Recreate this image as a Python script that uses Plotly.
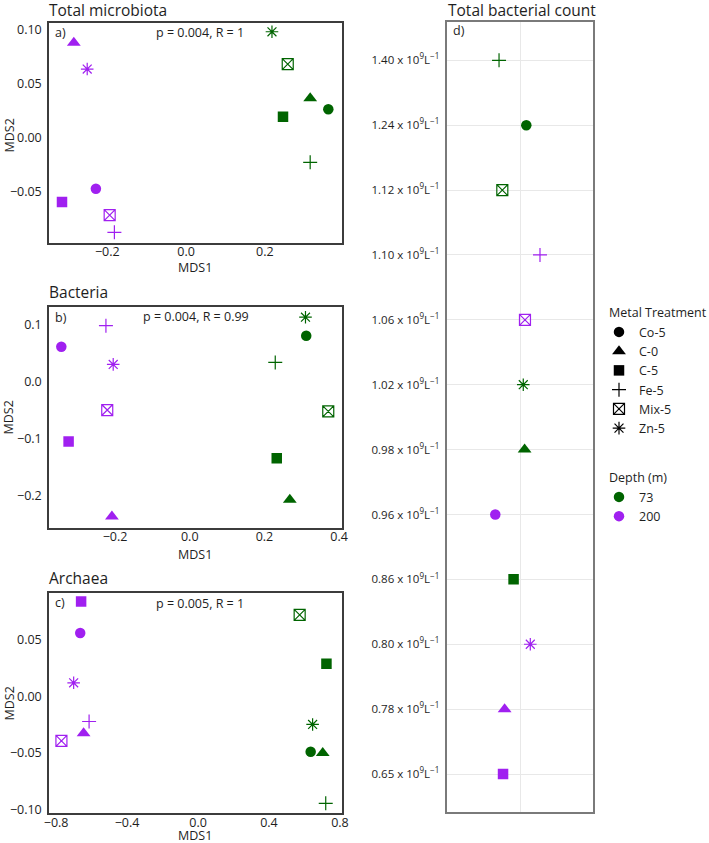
import plotly.graph_objects as go

# ---------------- data ----------------
treatments = ["Co-5", "C-0", "C-5", "Fe-5", "Mix-5", "Zn-5"]
depths = [73, 200]

# Panel a) Total microbiota
a_x_73 = [0.361, 0.315, 0.246, 0.315, 0.258, 0.218]
a_y_73 = [0.0266, 0.0368, 0.0197, -0.0225, 0.0685, 0.0984]
a_x_200 = [-0.229, -0.285, -0.315, -0.182, -0.194, -0.251]
a_y_200 = [-0.0469, 0.0882, -0.0593, -0.0873, -0.0713, 0.0639]

# Panel b) Bacteria
b_x_73 = [0.312, 0.268, 0.233, 0.229, 0.371, 0.310]
b_y_73 = [0.081, -0.207, -0.134, 0.0342, -0.0517, 0.1136]
b_x_200 = [-0.344, -0.2085, -0.3245, -0.2245, -0.221, -0.205]
b_y_200 = [0.0617, -0.2365, -0.1048, 0.0988, -0.0494, 0.0307]

# Panel c) Archaea
c_x_73 = [0.635, 0.703, 0.724, 0.720, 0.573, 0.646]
c_y_73 = [-0.049, -0.050, 0.029, -0.0947, 0.0722, -0.0248]
c_x_200 = [-0.664, -0.645, -0.659, -0.614, -0.770, -0.701]
c_y_200 = [0.0562, -0.0325, 0.084, -0.0222, -0.0393, 0.0121]

# Panel d) Total bacterial count (x 10^9 per L), top to bottom
count_values = [1.40, 1.24, 1.12, 1.10, 1.06, 1.02, 0.98, 0.96, 0.86, 0.80, 0.78, 0.65]
count_depth = [73, 73, 73, 200, 200, 73, 73, 200, 73, 200, 200, 200]
count_treat = ["Fe-5", "Co-5", "Mix-5", "Fe-5", "Mix-5", "Zn-5", "C-0", "Co-5", "C-5", "Zn-5", "C-0", "C-5"]
count_jitter = [0.827, 1.052, 0.854, 1.165, 1.041, 1.027, 1.038, 0.796, 0.947, 1.085, 0.873, 0.860]

panel_titles = ["Total microbiota", "Bacteria", "Archaea", "Total bacterial count"]
panel_tags = ["a)", "b)", "c)", "d)"]
panel_stats = ["p = 0.004, R = 1", "p = 0.004, R = 0.99", "p = 0.005, R = 1"]

# ---------------- styles ----------------
depth_color = {73: "#006400", 200: "#A020F0"}
sym = {"Co-5": "circle", "C-0": "triangle-up", "C-5": "square",
       "Fe-5": "cross-thin-open", "Mix-5": "square-x-open", "Zn-5": "asterisk-open"}
msize = {"Co-5": 10.5, "C-0": 12, "C-5": 10.5, "Fe-5": 10, "Mix-5": 11, "Zn-5": 10.5}
FONT = "Open Sans"
TXT = "#1e1e1e"
FS = 12.5


def marker(t, color):
    m = dict(symbol=sym[t], size=msize[t], color=color)
    if sym[t].endswith("-open"):
        m["line"] = dict(color=color, width=1.2)
    else:
        m["line"] = dict(width=0)
    return m


fig = go.Figure()

panels = [
    ("x", "y", a_x_73, a_y_73, a_x_200, a_y_200),
    ("x2", "y2", b_x_73, b_y_73, b_x_200, b_y_200),
    ("x3", "y3", c_x_73, c_y_73, c_x_200, c_y_200),
]
for xa, ya, x73, y73, x200, y200 in panels:
    for d, xs, ys in [(73, x73, y73), (200, x200, y200)]:
        for i, t in enumerate(treatments):
            fig.add_trace(go.Scatter(x=[xs[i]], y=[ys[i]], mode="markers", xaxis=xa, yaxis=ya,
                                     marker=marker(t, depth_color[d]), showlegend=False,
                                     name=f"{t} ({d} m)"))

count_labels = [f"{v:.2f} x 10<sup>9</sup>L<sup>\u22121</sup>" for v in count_values]
for i in range(len(count_values)):
    fig.add_trace(go.Scatter(x=[count_jitter[i]], y=[count_labels[i]], mode="markers",
                             xaxis="x4", yaxis="y4",
                             marker=marker(count_treat[i], depth_color[count_depth[i]]),
                             showlegend=False, name=count_treat[i]))

# legends
for t in treatments:
    fig.add_trace(go.Scatter(x=[None], y=[None], mode="markers", xaxis="x4", yaxis="y4",
                             marker=marker(t, "#000000"), name=t, legend="legend"))
for d in depths:
    fig.add_trace(go.Scatter(x=[None], y=[None], mode="markers", xaxis="x4", yaxis="y4",
                             marker=dict(symbol="circle", size=10.5, color=depth_color[d]),
                             name=str(d), legend="legend2"))

W, H = 709, 843


def xdom(l, r):
    return [l / W, r / W]


def ydom(top, bot):
    return [1 - bot / H, 1 - top / H]


ax_common = dict(showgrid=False, zeroline=False, showline=True, mirror=True,
                 linecolor="#3c3c3c", linewidth=1.5, ticks="",
                 tickfont=dict(size=FS, color=TXT), automargin=False)
xa_common = dict(ax_common, ticklabelstandoff=-3, tickformat=".1f", tick0=0)
ya_common = dict(ax_common, ticklabelstandoff=3, tick0=0)

fig.update_layout(
    xaxis=dict(xa_common, domain=xdom(49, 341.7), range=[-0.348, 0.395], dtick=0.2, anchor="y"),
    yaxis=dict(ya_common, domain=ydom(22.7, 242.7), range=[-0.0969, 0.1068], dtick=0.05,
               tickformat=".2f", anchor="x"),
    xaxis2=dict(xa_common, domain=xdom(49, 341.7), range=[-0.377, 0.407], dtick=0.2, anchor="y2"),
    yaxis2=dict(ya_common, domain=ydom(307.3, 527.7), range=[-0.256, 0.131], dtick=0.1,
                tickformat=".1f", anchor="x2"),
    xaxis3=dict(xa_common, domain=xdom(49, 341.7), range=[-0.84, 0.81], dtick=0.4, anchor="y3"),
    yaxis3=dict(ya_common, domain=ydom(592.7, 813.3), range=[-0.1035, 0.0919], dtick=0.05,
                tickformat=".2f", anchor="x3"),
    xaxis4=dict(domain=xdom(447.3, 592.7), range=[0.4, 1.6], anchor="y4", tickvals=[1],
                showticklabels=False, showgrid=True, gridcolor="#e8e8e8", gridwidth=1,
                zeroline=False, showline=True, mirror=True, linecolor="#7a7a7a", linewidth=1.5,
                ticks="", automargin=False),
    yaxis4=dict(domain=ydom(22, 812.3), type="category",
                categoryorder="array", categoryarray=count_labels[::-1],
                range=[-0.59, len(count_labels) - 0.41], anchor="x4",
                showgrid=True, gridcolor="#e8e8e8", gridwidth=1, zeroline=False,
                showline=True, mirror=True, linecolor="#7a7a7a", linewidth=1.5, ticks="",
                ticklabelstandoff=4, tickfont=dict(size=11.5, color=TXT), automargin=False),
    width=W, height=H, margin=dict(l=0, r=0, t=0, b=0),
    paper_bgcolor="white", plot_bgcolor="white",
    font=dict(family=FONT, size=FS, color=TXT),
    legend=dict(title=dict(text="Metal Treatment", font=dict(size=FS)), x=607 / W, y=1 - 301 / H,
                xanchor="left", yanchor="top", font=dict(size=FS), bgcolor="rgba(0,0,0,0)",
                tracegroupgap=0, itemsizing="trace", indentation=-8),
    legend2=dict(title=dict(text="Depth (m)", font=dict(size=FS)), x=607 / W, y=1 - 466 / H,
                 xanchor="left", yanchor="top", font=dict(size=FS), bgcolor="rgba(0,0,0,0)",
                 tracegroupgap=0, itemsizing="trace", indentation=-8),
    showlegend=True,
)

# panel titles, tags and statistics
title_pos = [(47, 10), (47, 292.5), (47, 578), (446, 10)]
for txt, (px, py) in zip(panel_titles, title_pos):
    fig.add_annotation(text=txt, xref="paper", yref="paper", x=px / W, y=1 - py / H,
                       xanchor="left", yanchor="middle", showarrow=False,
                       font=dict(size=15.5, color=TXT, family=FONT))

tag_pos = [(53, 32.5), (53, 317), (53, 602.5), (451, 31)]
for txt, (px, py) in zip(panel_tags, tag_pos):
    fig.add_annotation(text=txt, xref="paper", yref="paper", x=px / W, y=1 - py / H,
                       xanchor="left", yanchor="middle", showarrow=False,
                       font=dict(size=FS, color=TXT, family=FONT))

stat_pos = [(200, 32.5), (196, 316), (200, 603)]
for txt, (px, py) in zip(panel_stats, stat_pos):
    fig.add_annotation(text=txt, xref="paper", yref="paper", x=px / W, y=1 - py / H,
                       xanchor="center", yanchor="middle", showarrow=False,
                       font=dict(size=FS, color=TXT, family=FONT))

# axis titles
for py in [267.5, 554.5, 835]:
    fig.add_annotation(text="MDS1", xref="paper", yref="paper", x=195 / W, y=1 - py / H,
                       xanchor="center", yanchor="middle", showarrow=False,
                       font=dict(size=FS, color=TXT, family=FONT))
for py in [136, 418, 704]:
    fig.add_annotation(text="MDS2", xref="paper", yref="paper", x=8.5 / W, y=1 - py / H,
                       xanchor="center", yanchor="middle", showarrow=False, textangle=-90,
                       font=dict(size=FS, color=TXT, family=FONT))

fig.write_html("out.html")
